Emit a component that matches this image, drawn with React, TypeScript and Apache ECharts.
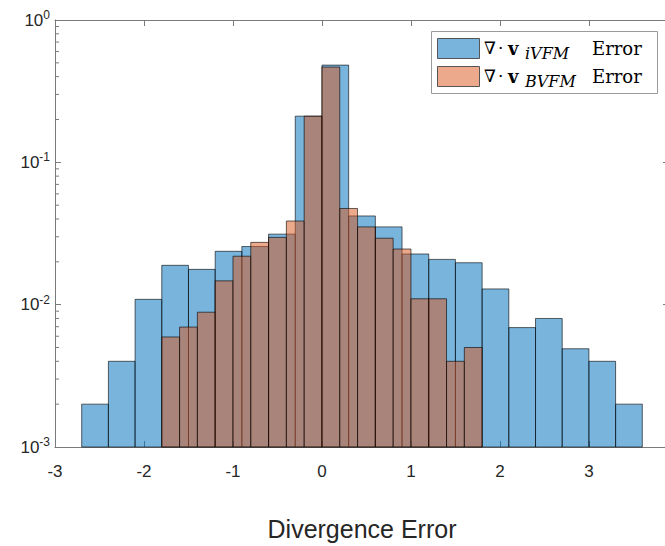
import React, { useEffect, useRef } from "react";
import * as echarts from "echarts";

// ---- data ----
const blueEdges = [-2.7, -2.4, -2.1, -1.8, -1.5, -1.2, -0.9, -0.6, -0.3, 0, 0.3, 0.6, 0.9, 1.2, 1.5, 1.8, 2.1, 2.4, 2.7, 3.0, 3.3, 3.6];
const blueValues = [0.002, 0.004, 0.0109, 0.0189, 0.0177, 0.0237, 0.0256, 0.0313, 0.211, 0.482, 0.042, 0.0352, 0.0227, 0.0208, 0.0197, 0.0129, 0.0069, 0.008, 0.0049, 0.004, 0.002];
const orangeEdges = [-1.8, -1.6, -1.4, -1.2, -1.0, -0.8, -0.6, -0.4, -0.2, 0, 0.2, 0.4, 0.6, 0.8, 1.0, 1.2, 1.4, 1.6, 1.8];
const orangeValues = [0.00593, 0.00696, 0.00885, 0.0147, 0.0219, 0.0274, 0.0297, 0.0387, 0.211, 0.467, 0.0474, 0.0352, 0.0293, 0.0246, 0.011, 0.011, 0.004, 0.005];
const yMinorTicks = [0.002, 0.003, 0.004, 0.005, 0.006, 0.007, 0.008, 0.009, 0.02, 0.03, 0.04, 0.05, 0.06, 0.07, 0.08, 0.09, 0.2, 0.3, 0.4, 0.5, 0.6, 0.7, 0.8, 0.9];
const seriesNames = ["iVFM", "BVFM"];
const xAxisTitle = "Divergence Error";

const X_MIN = -3;
const X_MAX = 3.9;
const Y_MIN = 0.001;
const Y_MAX = 1;

const BLUE = "rgba(0,114,189,0.53)";
const ORANGE = "rgba(217,83,25,0.5)";
const EDGE = "rgba(0,0,0,0.6)";
const AXIS = "#7a7a7a";
const TEXT = "#262626";
const SANS = "'Liberation Sans', Arial, sans-serif";

function toBins(edges: number[], values: number[]) {
  return values.map((v, i) => [edges[i], edges[i + 1], v]);
}

function histRender(fill: string) {
  return (params: any, api: any) => {
    const x0 = api.value(0);
    const x1 = api.value(1);
    const v = api.value(2);
    const tl = api.coord([x0, v]);
    const br = api.coord([x1, Y_MIN]);
    return {
      type: "rect",
      shape: { x: tl[0], y: tl[1], width: br[0] - tl[0], height: br[1] - tl[1] },
      style: { fill, stroke: EDGE, lineWidth: 1 },
    };
  };
}

export default function App() {
  const ref = useRef<HTMLDivElement>(null);

  useEffect(() => {
    if (!ref.current) return;
    const chart = echarts.init(ref.current, undefined, { renderer: "svg" });

    const serif = "'DejaVu Serif', serif";
    const legendLine = (y: number, sub: string, swatch: string) => [
      {
        type: "rect",
        shape: { x: 437.5, y: y - 9.5, width: 42, height: 20 },
        style: { fill: swatch, stroke: "#555", lineWidth: 1 },
      },
      {
        type: "text",
        x: 484,
        y: y,
        style: { text: "\u2207", font: `17px ${serif}`, fill: "#000", verticalAlign: "middle", align: "left" },
      },
      {
        type: "text",
        x: 498,
        y: y,
        style: { text: "\u00b7", font: `17px ${serif}`, fill: "#000", verticalAlign: "middle", align: "left" },
      },
      {
        type: "text",
        x: 508,
        y: y,
        style: { text: "v", font: `bold 18px ${serif}`, fill: "#000", verticalAlign: "middle", align: "left" },
      },
      {
        type: "text",
        x: 525,
        y: y + 5,
        style: { text: sub, font: `italic 16px ${serif}`, fill: "#000", verticalAlign: "middle", align: "left" },
      },
      {
        type: "text",
        x: 592,
        y: y,
        style: { text: "Error", font: `18px ${serif}`, fill: "#000", verticalAlign: "middle", align: "left" },
      },
    ];

    chart.setOption({
      animation: false,
      backgroundColor: "#fff",
      grid: { left: 55, top: 20, right: 6, bottom: 94, containLabel: false },
      xAxis: [
        {
          type: "value",
          min: X_MIN,
          max: X_MAX,
          interval: 1,
          position: "bottom",
          axisLine: { show: true, onZero: false, lineStyle: { color: AXIS, width: 1 } },
          axisTick: { show: true, inside: true, length: 6, lineStyle: { color: AXIS } },
          axisLabel: {
            show: true,
            margin: 16,
            color: TEXT,
            fontSize: 17,
            fontFamily: SANS,
            showMaxLabel: false,
          },
          splitLine: { show: false },
          name: xAxisTitle,
          nameLocation: "middle",
          nameGap: 69,
          nameTextStyle: { color: TEXT, fontSize: 25, fontFamily: SANS },
        },
        {
          type: "value",
          min: X_MIN,
          max: X_MAX,
          interval: 1,
          position: "top",
          axisLine: { show: true, onZero: false, lineStyle: { color: AXIS, width: 1 } },
          axisTick: { show: true, inside: true, length: 6, lineStyle: { color: AXIS } },
          axisLabel: { show: false },
          splitLine: { show: false },
        },
      ],
      yAxis: [
        {
          type: "log",
          logBase: 10,
          min: Y_MIN,
          max: Y_MAX,
          position: "left",
          axisLine: { show: true, onZero: false, lineStyle: { color: AXIS, width: 1 } },
          axisTick: { show: true, inside: true, length: 6, lineStyle: { color: AXIS } },
          splitLine: { show: false },
          axisLabel: {
            margin: 5,
            color: TEXT,
            fontFamily: SANS,
            formatter: (v: number) => `{b|10}{s|${Math.round(Math.log10(v))}}`,
            rich: {
              b: { fontSize: 17, color: TEXT, fontFamily: SANS },
              s: { fontSize: 12, color: TEXT, padding: [0, 0, 10, 0], fontFamily: SANS },
            },
          },
        },
        {
          type: "log",
          logBase: 10,
          min: Y_MIN,
          max: Y_MAX,
          position: "right",
          axisLine: { show: true, onZero: false, lineStyle: { color: AXIS, width: 1 } },
          axisTick: { show: true, inside: true, length: 6, lineStyle: { color: AXIS } },
          axisLabel: { show: false },
          splitLine: { show: false },
        },
      ],
      series: [
        {
          name: seriesNames[0],
          type: "custom",
          xAxisIndex: 0,
          yAxisIndex: 0,
          renderItem: histRender(BLUE),
          encode: { x: [0, 1], y: 2 },
          data: toBins(blueEdges, blueValues),
          z: 2,
        },
        {
          name: seriesNames[1],
          type: "custom",
          xAxisIndex: 0,
          yAxisIndex: 0,
          renderItem: histRender(ORANGE),
          encode: { x: [0, 1], y: 2 },
          data: toBins(orangeEdges, orangeValues),
          z: 3,
        },
        {
          name: "minorTicks",
          type: "custom",
          xAxisIndex: 0,
          yAxisIndex: 0,
          clip: false,
          silent: true,
          renderItem: (params: any, api: any) => {
            const p = api.coord([X_MIN, api.value(1)]);
            return {
              type: "line",
              shape: { x1: p[0], y1: p[1], x2: p[0] + 4, y2: p[1] },
              style: { stroke: AXIS, lineWidth: 1 },
            };
          },
          encode: { x: 0, y: 1 },
          data: yMinorTicks.map((v) => [X_MIN, v]),
          z: 1,
        },
      ],
      graphic: [
        {
          type: "rect",
          z: 100,
          shape: { x: 431.5, y: 31.5, width: 226, height: 62 },
          style: { fill: "#fff", stroke: "#9a9a9a", lineWidth: 1 },
        },
        ...legendLine(48, "iVFM", BLUE).map((e) => ({ ...e, z: 101 })),
        ...legendLine(76, "BVFM", ORANGE).map((e) => ({ ...e, z: 101 })),
      ],
    });

    return () => {
      chart.dispose();
    };
  }, []);

  return (
    <div style={{ position: "fixed", left: 0, top: 0, width: 665, height: 546, overflow: "hidden", background: "#fff" }}>
      <div ref={ref} style={{ position: "absolute", left: 0, top: 0, width: 675, height: 546 }} />
    </div>
  );
}
